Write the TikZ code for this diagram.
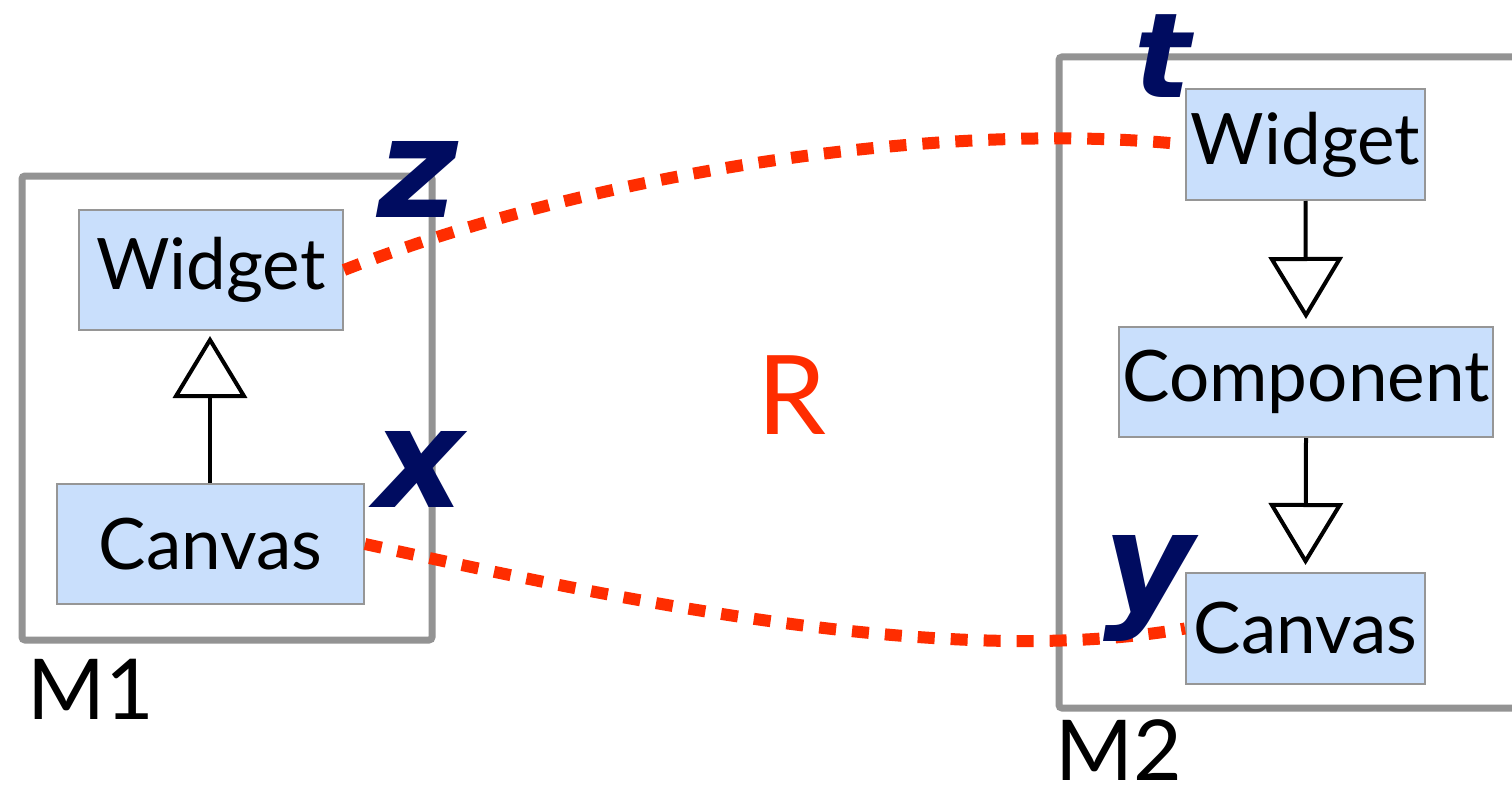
\documentclass[tikz,border=0pt]{standalone}
\usepackage{fontspec}
\setmainfont{Lato}
\newfontfamily\letterfont{DejaVu Sans}
\usetikzlibrary{arrows.meta}
\definecolor{nodeblue}{RGB}{201,223,252}
\definecolor{nodeborder}{RGB}{150,150,150}
\definecolor{framegray}{RGB}{147,147,147}
\definecolor{navy}{RGB}{0,12,96}
\definecolor{relred}{RGB}{255,45,0}
\tikzset{
  cls/.style={draw=nodeborder, line width=2pt, fill=nodeblue, inner sep=0pt,
    font=\fontsize{71}{80}\selectfont},
  frame/.style={draw=framegray, line width=7pt, rounded corners=3pt},
  inherit/.style={line width=4pt, -{Triangle[open, length=62pt, width=74pt]}},
  rel/.style={draw=relred, line width=12pt, dash pattern=on 17pt off 16pt},
  varlabel/.style={text=navy, inner sep=0pt, anchor=base,
    font=\letterfont\bfseries\itshape\fontsize{139}{150}\selectfont},
  modlabel/.style={inner sep=0pt, anchor=base west, font=\fontsize{84}{90}\selectfont}
}
\begin{document}
\begin{tikzpicture}[x=1pt, y=-1pt]
\clip (0,0) rectangle (1512,792);
\fill[white] (0,0) rectangle (1512,792);

% frames
\draw[frame] (22,176) rectangle (432,640);
\draw[frame] (1059,57) rectangle (1540,708);

% left model
\node[cls, minimum width=264pt, minimum height=120pt] (lw) at (211,270) {Widget};
\node[cls, minimum width=307pt, minimum height=120pt] (lc) at (210.5,544) {Canvas};
\draw[inherit, shorten >=5pt] (lc.north -| 210,0) -- (lw.south -| 210,0);

% right model
\node[cls, minimum width=239pt, minimum height=111pt] (rw) at (1305.5,144.5) {Widget};
\node[cls, minimum width=374pt, minimum height=110pt] (rp) at (1306,382) {Component};
\node[cls, minimum width=239pt, minimum height=111pt] (rc) at (1305.5,628.5) {Canvas};
\draw[inherit, shorten >=7pt] (rw.south) -- (rp.north);
\draw[inherit, shorten >=7pt] (rp.south) -- (rc.north);

% correspondences
\draw[rel] (lw.east) .. controls (600,170) and (950,120) .. (rw.west);
\draw[rel] (lc.east) .. controls (620,600) and (950,670) .. (rc.west);

% labels
\node[varlabel] (lz) at (418,217) {z};
\node[varlabel] (lx) at (419,507) {x};
\node[varlabel, font=\letterfont\bfseries\itshape\fontsize{118}{130}\selectfont] (lt) at (1163,97) {t};
\node[varlabel] (ly) at (1149,611) {y};
\node[inner sep=0pt, anchor=base, text=relred, font=\fontsize{110}{120}\selectfont] (r) at (792,434) {R};
\node[modlabel] (m1) at (27,719) {M1};
\node[modlabel] (m2) at (1055,780) {M2};
\end{tikzpicture}
\end{document}
